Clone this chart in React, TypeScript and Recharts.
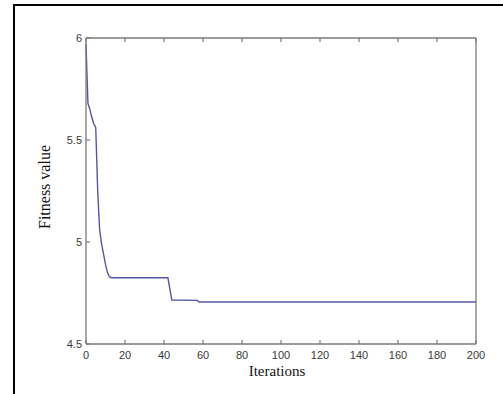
import React from 'react';
import { LineChart, Line, XAxis, YAxis } from 'recharts';

const iterations = [0, 1, 2, 3, 4, 5, 6, 7, 8, 9, 10, 11, 12, 13, 42, 43, 44, 57, 58, 200];
const fitness = [5.97, 5.68, 5.65, 5.61, 5.58, 5.56, 5.25, 5.06, 4.99, 4.94, 4.89, 4.85, 4.83, 4.825, 4.825, 4.77, 4.716, 4.714, 4.706, 4.706];
const xTicks = [0, 20, 40, 60, 80, 100, 120, 140, 160, 180, 200];
const yTicks = [4.5, 5, 5.5, 6];

const data = iterations.map((it, i) => ({ it, v: fitness[i] }));

const AXIS = '#7a7a7a';
const TXT = '#3a3a3a';
const TICK_FONT = '"Liberation Sans", Arial, sans-serif';

const BottomTick = (p: any) => (
  <g>
    <line x1={p.x} x2={p.x} y1={p.y} y2={p.y - 4} stroke={AXIS} strokeWidth={1.2} />
    <text x={p.x} y={p.y + 15} textAnchor="middle" fontSize={11} fill={TXT} fontFamily={TICK_FONT}>
      {p.payload.value}
    </text>
  </g>
);
const TopTick = (p: any) => (
  <line x1={p.x} x2={p.x} y1={p.y} y2={p.y + 4} stroke={AXIS} strokeWidth={1.2} />
);
const LeftTick = (p: any) => (
  <g>
    <line x1={p.x} x2={p.x + 4} y1={p.y} y2={p.y} stroke={AXIS} strokeWidth={1.2} />
    <text x={p.x - 4} y={p.y + 4} textAnchor="end" fontSize={11} fill={TXT} fontFamily={TICK_FONT}>
      {p.payload.value}
    </text>
  </g>
);
const RightTick = (p: any) => (
  <line x1={p.x} x2={p.x - 4} y1={p.y} y2={p.y} stroke={AXIS} strokeWidth={1.2} />
);

const XLabel = (p: any) => {
  const vb = p.viewBox || { x: 86, y: 344, width: 390, height: 50 };
  return (
    <text x={vb.x + vb.width / 2 - 4} y={vb.y + 32} textAnchor="middle" fontSize={15}
      fontFamily='"Liberation Serif", "Times New Roman", serif' fill="#111">
      Iterations
    </text>
  );
};
const YLabel = (p: any) => {
  const vb = p.viewBox || { x: 0, y: 38, width: 86, height: 306 };
  const cx = vb.x + 44;
  const cy = vb.y + vb.height / 2 - 4;
  return (
    <text x={cx} y={cy} transform={`rotate(-90, ${cx}, ${cy})`} textAnchor="middle"
      dominantBaseline="central" fontSize={16}
      fontFamily='"Liberation Serif", "Times New Roman", serif' fill="#111">
      Fitness value
    </text>
  );
};

export default function App() {
  return (
    <div style={{ position: 'absolute', left: 0, top: 0, width: 503, height: 394, background: '#fff', overflow: 'hidden' }}>
      <div style={{ position: 'absolute', left: 0, top: 0 }}>
        <LineChart width={490} height={394} data={data} margin={{ top: 37, right: 13, left: 0, bottom: 0 }}>
          <XAxis xAxisId="b" dataKey="it" type="number" domain={[0, 200]} ticks={xTicks}
            height={50} tickSize={0} tickMargin={0} tickLine={false}
            axisLine={{ stroke: AXIS, strokeWidth: 1.3 }} tick={BottomTick} interval={0}
            label={<XLabel />} />
          <XAxis xAxisId="t" orientation="top" dataKey="it" type="number" domain={[0, 200]} ticks={xTicks}
            height={1} tickSize={0} tickMargin={0} tickLine={false}
            axisLine={{ stroke: AXIS, strokeWidth: 1.3 }} tick={TopTick} interval={0} />
          <YAxis yAxisId="l" type="number" domain={[4.5, 6]} ticks={yTicks} width={86}
            tickSize={0} tickMargin={0} tickLine={false}
            axisLine={{ stroke: AXIS, strokeWidth: 1.3 }} tick={LeftTick} interval={0}
            label={<YLabel />} />
          <YAxis yAxisId="r" orientation="right" type="number" domain={[4.5, 6]} ticks={yTicks} width={1}
            tickSize={0} tickMargin={0} tickLine={false}
            axisLine={{ stroke: AXIS, strokeWidth: 1.3 }} tick={RightTick} interval={0} />
          <Line xAxisId="b" yAxisId="l" type="linear" dataKey="v" stroke="#5555a8" strokeWidth={1.4}
            dot={false} isAnimationActive={false} />
        </LineChart>
      </div>
      <div style={{ position: 'absolute', left: 490, top: 7, width: 13, height: 387, background: '#fff', zIndex: 5 }} />
      <div style={{ position: 'absolute', left: 13, top: 4, width: 490, height: 2, background: '#000', zIndex: 6 }} />
      <div style={{ position: 'absolute', left: 13, top: 4, width: 2, height: 390, background: '#000', zIndex: 6 }} />
    </div>
  );
}
